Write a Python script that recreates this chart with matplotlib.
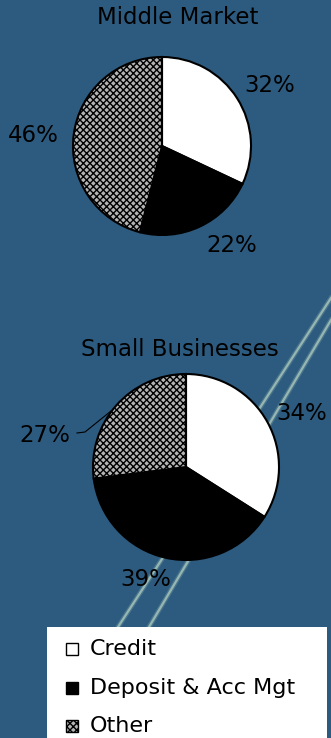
import matplotlib
matplotlib.use("Agg")
import matplotlib.pyplot as plt
from matplotlib.patches import Rectangle

W, H = 331, 738
BG = "#2D5B7F"

categories = ["Credit", "Deposit & Acc Mgt", "Other"]
middle_market = [32, 22, 46]
small_business = [34, 39, 27]
titles = ["Middle Market", "Small Businesses"]

FACES = ["white", "black", "#b4b4b4"]
HATCHES = [None, None, "xxxxx"]

plt.rcParams["hatch.linewidth"] = 1.0

fig = plt.figure(figsize=(W / 100, H / 100), dpi=100)
fig.patch.set_facecolor(BG)
# one axes over the whole figure, data units = pixels (y up)
ax = fig.add_axes([0, 0, 1, 1])
ax.set_facecolor(BG)

# decorative light streaks in the background
for x0, y0, x1, y1 in [(331, 298, 118, 627), (331, 320, 149, 627)]:
    ax.plot([x0, x1], [H - y0, H - y1], color="#b9d2c0", lw=1.6, alpha=0.85, zorder=0)
    ax.plot([x0, x1], [H - y0, H - y1], color="#7fa6a8", lw=3.5, alpha=0.35, zorder=0)


def draw_pie(vals, cx, cy, r):
    wedges, _ = ax.pie(vals, center=(cx, H - cy), radius=r, startangle=90,
                       counterclock=False, frame=True,
                       wedgeprops=dict(edgecolor="black", linewidth=1.5))
    for w, fc, h in zip(wedges, FACES, HATCHES):
        w.set_facecolor(fc)
        if h:
            w.set_hatch(h)
        w.set_zorder(3)
    return wedges


draw_pie(middle_market, 162, 146, 89)
draw_pie(small_business, 186, 467, 93)
ax.set_xlim(0, W)
ax.set_ylim(0, H)
ax.set_aspect("equal")
ax.axis("off")

TXT = dict(fontsize=16.5, color="black", family="DejaVu Sans")
ax.text(178, H - 18, titles[0], ha="center", va="center", **TXT)
ax.text(180, H - 349, titles[1], ha="center", va="center", **TXT)

lbl = dict(ha="center", va="center", **TXT)
ax.text(270, H - 86, f"{middle_market[0]}%", **lbl)
ax.text(232, H - 246, f"{middle_market[1]}%", **lbl)
ax.text(33, H - 136, f"{middle_market[2]}%", **lbl)
ax.text(302, H - 414, f"{small_business[0]}%", **lbl)
ax.text(146, H - 579, f"{small_business[1]}%", **lbl)
ax.text(45, H - 436, f"{small_business[2]}%", **lbl)
ax.plot([77, 85, 111], [H - 433, H - 432, H - 411], color="black", lw=0.8, zorder=4)

# legend box
ax.add_patch(Rectangle((47, 0), 280, H - 627, facecolor="white", edgecolor="none", zorder=5))
for i, (name, fc, h) in enumerate(zip(categories, FACES, HATCHES)):
    y = H - (649 + 38.5 * i)
    ax.add_patch(Rectangle((66, y - 6), 12, 12, facecolor=fc, edgecolor="black",
                           lw=1.0, hatch=h, zorder=6))
    ax.text(90, y, name, ha="left", va="center", fontsize=16, color="black", zorder=6)

fig.savefig("out.png", dpi=100, facecolor=fig.get_facecolor())
